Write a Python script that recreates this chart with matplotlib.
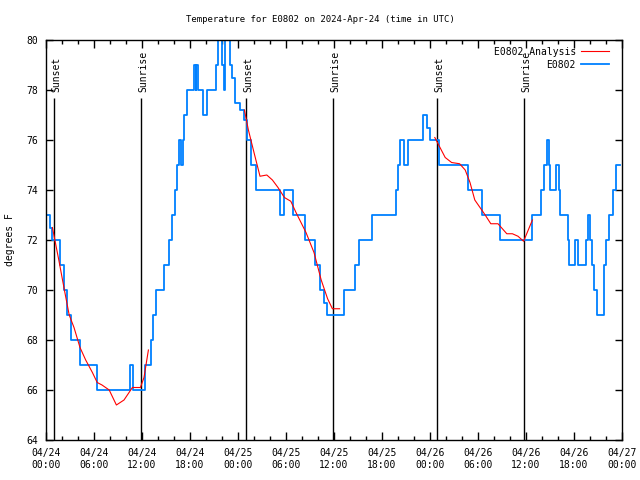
import numpy as np
import pandas as pd
import matplotlib
matplotlib.use("Agg")
from matplotlib import pyplot as plt
import matplotlib.dates as mdates

start = pd.Timestamp("2024-04-24 00:00")

# observed E0802 temperature (hours since 04/24 00:00, deg F), step changes
obs_hours = [0.1, 0.5, 0.8, 1.8, 2.3, 2.6, 3.1, 4.2, 6.4, 10.5, 10.9, 12.4, 13.1, 13.4,
             13.8, 14.7, 15.4, 15.7, 16.1, 16.4, 16.6, 16.9, 17.1, 17.3, 17.6, 18.5,
             18.7, 18.8, 19.0, 19.6, 20.1, 21.3, 21.5, 22.0, 22.2, 22.4, 23.0, 23.3,
             23.6, 24.3, 24.7, 25.1, 25.6, 26.2, 29.2, 29.7, 30.9, 32.4, 33.6, 34.3,
             34.8, 35.1, 37.3, 38.6, 39.1, 40.8, 43.7, 43.95, 44.2, 44.8, 45.3, 47.1,
             47.6, 48.0, 49.1, 52.8, 54.5, 56.8, 60.7, 61.9, 62.2, 62.6, 62.9, 63.0,
             63.8, 64.1, 64.3, 65.2, 65.35, 66.1, 66.5, 67.5, 67.7, 68.0, 68.2, 68.5,
             68.9, 69.8, 70.0, 70.4, 70.9, 71.3, 71.75]
obs_temp = [73, 72.5, 72, 71, 70, 69, 68, 67, 66, 67, 66, 67, 68, 69,
            70, 71, 72, 73, 74, 75, 76, 75, 76, 77, 78, 79,
            78, 79, 78, 77, 78, 79, 81, 79, 78, 81, 79, 78.5,
            77.5, 77.2, 76.8, 76, 75, 74, 73, 74, 73, 72, 71, 70,
            69.5, 69, 70, 71, 72, 73, 74, 75, 76, 75, 76, 77,
            76.5, 76, 75, 74, 73, 72, 73, 74, 75, 76, 75, 74,
            75, 74, 73, 72, 71, 72, 71, 72, 73, 72, 71, 70,
            69, 71, 72, 73, 74, 75, 75]

# analysis series, nan = gap
ana_hours = [0.8, 1.6, 2.3, 2.9, 3.5, 4.25, 4.96, 5.8, 6.4, 7.0, 7.9, 8.8, 9.75,
             10.8, 11.2, 11.8, 12.25, 12.8, 13.0,
             24.8, 25.3, 26.0, 26.75, 27.6, 28.3, 29.0, 29.8, 30.6, 31.25, 32.5,
             33.5, 34.4, 35.2, 35.8, 36.7, 37.0,
             48.6, 49.25, 49.9, 50.7, 51.7, 52.4, 53.0, 53.6, 54.25, 54.9, 55.6,
             56.5, 57.6, 58.3, 59.0, 59.7, 60.8]
ana_temp = [72.5, 71.2, 70.0, 69.0, 68.5, 67.7, 67.2, 66.7, 66.3, 66.2, 66.0, 65.4, 65.6,
            66.1, 66.1, 66.1, 66.5, 67.6, np.nan,
            77.2, 76.4, 75.5, 74.55, 74.6, 74.4, 74.1, 73.7, 73.55, 73.1, 72.3,
            71.5, 70.4, 69.65, 69.25, 69.25, np.nan,
            76.1, 75.7, 75.3, 75.1, 75.05, 74.8, 74.3, 73.6, 73.3, 73.0, 72.65,
            72.65, 72.25, 72.25, 72.15, 71.95, 72.8]

sun_hours = [1.0, 11.875, 25.0, 35.875, 48.875, 59.75]
sun_labels = ["Sunset", "Sunrise", "Sunset", "Sunrise", "Sunset", "Sunrise"]

plt.rcParams['font.family'] = ['DejaVu Sans Mono']
fs = 7

fig = plt.figure(figsize=(6.4, 4.8), dpi=100)
ax = fig.add_axes([46/640, 1-440/480, 576/640, 400/480])

t_obs = start + pd.to_timedelta(obs_hours, unit="h")
t_ana = start + pd.to_timedelta(ana_hours, unit="h")
t_sun = start + pd.to_timedelta(sun_hours, unit="h")

ax.vlines(t_sun, 64, 77.68, color="black", lw=1.0, zorder=1)
for t, lab in zip(t_sun, sun_labels):
    ax.text(t + pd.Timedelta(minutes=15), 77.92, lab, rotation=90, ha="center", va="bottom",
            fontsize=fs, zorder=1)

ax.plot(t_ana, ana_temp, color="#ff0000", lw=0.8, label="E0802 Analysis", zorder=3)
ax.plot(t_obs, obs_temp, color="#0080ff", lw=1.3, drawstyle="steps-post", label="E0802", zorder=2)

ax.set_xlim(start, start + pd.Timedelta(hours=72))
ax.set_ylim(64, 80)
ax.set_yticks(range(64, 81, 2))
ax.xaxis.set_major_locator(mdates.HourLocator(byhour=range(0, 24, 6)))
ax.xaxis.set_minor_locator(mdates.HourLocator(byhour=range(0, 24, 2)))
ax.xaxis.set_major_formatter(mdates.DateFormatter("%m/%d\n%H:%M"))
ax.tick_params(which="both", direction="in", top=True, right=True, labelsize=fs, width=1)
ax.tick_params(which="major", length=6)
ax.tick_params(which="minor", length=3)
ax.tick_params(axis="x", pad=6)
ax.tick_params(axis="y", which="major", length=5, pad=6)
for s in ax.spines.values():
    s.set_linewidth(1)

fig.text(0.5, 1 - 19/480, "Temperature for E0802 on 2024-Apr-24 (time in UTC)",
         fontsize=6.5, ha="center", va="center")
ax.set_ylabel("degrees F", fontsize=fs, labelpad=8)

leg = ax.legend(loc="upper right", bbox_to_anchor=(0.99, 1.0), frameon=False, markerfirst=False,
                fontsize=fs, handlelength=2.9, handletextpad=0.55, labelspacing=0.3,
                borderaxespad=0.3)

fig.savefig("out.png", dpi=100)
